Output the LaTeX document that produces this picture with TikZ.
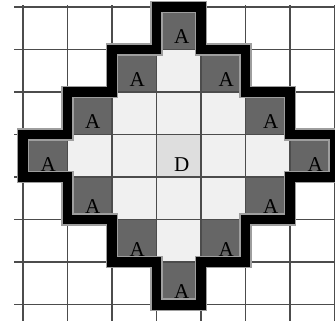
\documentclass[tikz,border=0pt]{standalone}
\usepackage{fontspec}
\setmainfont{Liberation Serif}
\usepackage{tikz}
\definecolor{gridgray}{gray}{0.30}
\definecolor{cellA}{gray}{0.40}
\definecolor{cellin}{gray}{0.94}
\definecolor{cellD}{gray}{0.87}
\definecolor{bandgray}{gray}{0.62}

\begin{document}
\begin{tikzpicture}[
    x=1.335cm,y=-1.275cm,
    grille/.style  = {gridgray, line width=1.5pt},
    bordure/.style = {line width=11pt, bandgray, line join=miter},
    noyau/.style   = {line width=8.5pt, black, line join=miter},
    lettre/.style  = {font=\fontsize{18}{20}\selectfont, inner sep=0pt},
  ]

  \useasboundingbox (-0.517,-0.165) rectangle (7.011,7.365);
  \clip (-0.517,-0.165) rectangle (7.011,7.365);

  % staircase outline of the zone
  \def\zone{(3,0) -- (4,0) -- (4,1) -- (5,1) -- (5,2) -- (6,2) -- (6,3)
    -- (7,3) -- (7,4) -- (6,4) -- (6,5) -- (5,5) -- (5,6) -- (4,6) -- (4,7)
    -- (3,7) -- (3,6) -- (2,6) -- (2,5) -- (1,5) -- (1,4) -- (0,4) -- (0,3)
    -- (1,3) -- (1,2) -- (2,2) -- (2,1) -- (3,1) -- cycle}

  \fill[cellin] \zone;
  \foreach \i/\j in {3/0,2/1,4/1,1/2,5/2,0/3,6/3,1/4,5/4,2/5,4/5,3/6}
    \fill[cellA] (\i,\j) rectangle ++(1,1);
  \fill[cellD] (3,3) rectangle ++(1,1);

  % grid
  \foreach \j in {0,...,7}
    \draw[grille] (-0.2,\j) -- (7.1,\j);
  \foreach \i in {0,...,7}
    \draw[grille] (\i,-0.04) -- (\i,7.4);

  % thick border
  \draw[bordure] \zone;
  \draw[noyau] \zone;

  % labels
  \foreach \i/\j [count=\k] in {3/0,2/1,4/1,1/2,5/2,0/3,6/3,1/4,5/4,2/5,4/5,3/6}
    \node[lettre] (a\k) at (\i+0.567,\j+0.7) {A};
  \node[lettre] (d) at (3.567,3.7) {D};

\end{tikzpicture}
\end{document}
